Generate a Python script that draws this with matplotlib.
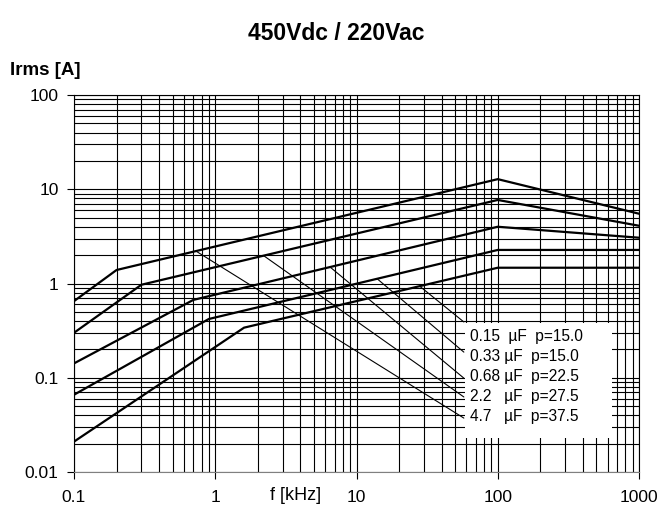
import matplotlib
matplotlib.use('Agg')
import matplotlib.pyplot as plt
import numpy as np
from matplotlib.ticker import FixedLocator, NullFormatter, NullLocator

plt.rcParams['font.family'] = ['Liberation Sans', 'DejaVu Sans']

# ripple current curves, one per capacitance (break points in kHz / A)
cap_labels = ['4.7   µF  p=37.5', '2.2   µF  p=27.5', '0.68 µF  p=22.5',
              '0.33 µF  p=15.0', '0.15  µF  p=15.0']
freq_47 = [0.1, 0.2, 100, 1000]
irms_47 = [0.65, 1.39, 12.8, 5.5]
freq_22 = [0.1, 0.3, 100, 1000]
irms_22 = [0.30, 0.97, 7.7, 4.1]
freq_068 = [0.1, 0.7, 100, 1000]
irms_068 = [0.142, 0.67, 4.0, 3.06]
freq_033 = [0.1, 0.9, 100, 1000]
irms_033 = [0.066, 0.42, 2.27, 2.27]
freq_015 = [0.1, 1.6, 100, 1000]
irms_015 = [0.021, 0.34, 1.47, 1.47]

# frequency where each label's leader line touches its curve
tap_freq = [0.73, 2.2, 6.5, 14, 28]

x_ticks = [0.1, 1, 10, 100, 1000]
x_ticklabels = ['0.1', '1', '10', '100', '1000']
y_ticks = [0.01, 0.1, 1, 10, 100]
y_ticklabels = ['0.01', '0.1', '1', '10', '100']

curves = [(freq_47, irms_47), (freq_22, irms_22), (freq_068, irms_068),
          (freq_033, irms_033), (freq_015, irms_015)]

W, H = 659, 518
fig = plt.figure(figsize=(W / 100, H / 100), dpi=100)
ax = fig.add_axes([74 / W, 1 - 472 / H, 565 / W, 377 / H])
ax.set_xscale('log')
ax.set_yscale('log')
ax.set_xlim(0.1, 1000)
ax.set_ylim(0.01, 100)

# full log grid, decades and the 2..9 lines in between
minor_x = [m * 10.0 ** e for e in range(-1, 3) for m in range(2, 10)]
minor_y = [m * 10.0 ** e for e in range(-2, 2) for m in range(2, 10)]
for v in x_ticks + minor_x:
    ax.axvline(v, color='black', lw=0.8, zorder=1)
for v in y_ticks + minor_y:
    ax.axhline(v, color='black', lw=0.8, zorder=1)

ax.xaxis.set_major_locator(FixedLocator(x_ticks))
ax.yaxis.set_major_locator(FixedLocator(y_ticks))
ax.xaxis.set_minor_locator(NullLocator())
ax.yaxis.set_minor_locator(NullLocator())
ax.xaxis.set_minor_formatter(NullFormatter())
ax.yaxis.set_minor_formatter(NullFormatter())
ax.set_xticklabels(x_ticklabels)
ax.set_yticklabels(y_ticklabels)
ax.tick_params(axis='both', direction='out', length=5, width=0.8,
               labelsize=12.5, color='black')
ax.tick_params(axis='x', pad=8)
ax.tick_params(axis='y', pad=6)
for s in ax.spines.values():
    s.set_linewidth(0.8)
ax.spines['bottom'].set_color('#808080')

for f, i in curves:
    ax.plot(f, i, color='black', lw=1.6, zorder=3, solid_joinstyle='miter')

# white label box over the grid
box_x0, box_x1 = 0.692, 0.952
box_y0, box_y1 = 0.090, 0.395
ax.add_patch(plt.Rectangle((box_x0, box_y0), box_x1 - box_x0, box_y1 - box_y0,
                           transform=ax.transAxes, facecolor='white',
                           edgecolor='none', zorder=4))

# labels listed top to bottom in the box: smallest capacitance first
row_y = [0.359, 0.306, 0.253, 0.200, 0.147]
leader_end_y = [0.398, 0.318, 0.249, 0.199, 0.143]
leader_end_x = 0.690
for k in range(5):
    ci = 4 - k
    f, i = curves[ci]
    ft = tap_freq[ci]
    yt = 10 ** np.interp(np.log10(ft), np.log10(f), np.log10(i))
    ax.annotate('', xy=(ft, yt), xycoords='data',
                xytext=(leader_end_x, leader_end_y[k]), textcoords='axes fraction',
                arrowprops=dict(arrowstyle='-', lw=0.8, color='black',
                                shrinkA=0, shrinkB=0), zorder=2)
    ax.text(0.701, row_y[k], cap_labels[ci], transform=ax.transAxes,
            fontsize=11.2, va='center', ha='left', zorder=5)

fig.text(336 / W, 1 - 33 / H, '450Vdc / 220Vac', ha='center', va='center',
         fontsize=16.5, fontweight='bold')
fig.text(10 / W, 1 - 75 / H, 'Irms [A]', ha='left', va='baseline',
         fontsize=13.5, fontweight='bold')
fig.text(296 / W, 1 - 496 / H, 'f [kHz]', ha='center', va='center', fontsize=13)

fig.savefig('out.png', dpi=100)
